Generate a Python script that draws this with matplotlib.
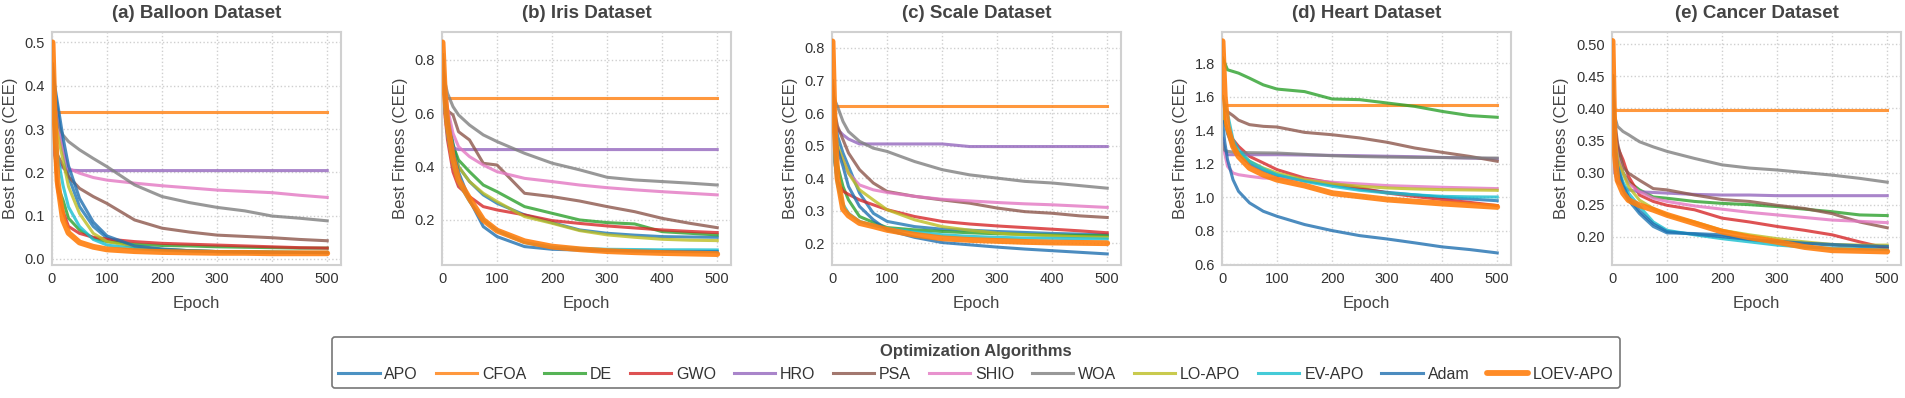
import numpy as np
import matplotlib
matplotlib.use('Agg')
import matplotlib.pyplot as plt
from matplotlib.ticker import FormatStrFormatter

plt.rcParams['font.family'] = ['Liberation Sans', 'DejaVu Sans']

EPOCHS = [1, 5, 10, 20, 30, 50, 75, 100, 150, 200, 250, 300, 350, 400, 450, 500]

ALGOS = ['APO', 'CFOA', 'DE', 'GWO', 'HRO', 'PSA', 'SHIO', 'WOA',
         'LO-APO', 'EV-APO', 'Adam', 'LOEV-APO']

COLORS = {
    'APO': '#1f77b4', 'CFOA': '#ff7f0e', 'DE': '#2ca02c', 'GWO': '#d62728',
    'HRO': '#9467bd', 'PSA': '#8c564b', 'SHIO': '#e377c2', 'WOA': '#7f7f7f',
    'LO-APO': '#bcbd22', 'EV-APO': '#17becf', 'Adam': '#1f6fb0', 'LOEV-APO': '#ff7f0e',
}

TITLES = ['(a) Balloon Dataset', '(b) Iris Dataset', '(c) Scale Dataset',
          '(d) Heart Dataset', '(e) Cancer Dataset']

balloon = {
    'APO':      [0.44, 0.39, 0.344, 0.252, 0.19, 0.121, 0.075, 0.048, 0.027, 0.022, 0.019, 0.017, 0.016, 0.016, 0.015, 0.015],
    'CFOA':     [0.34, 0.34, 0.34, 0.34, 0.34, 0.34, 0.34, 0.34, 0.34, 0.34, 0.34, 0.34, 0.34, 0.34, 0.34, 0.34],
    'DE':       [0.42, 0.25, 0.17, 0.136, 0.094, 0.067, 0.048, 0.04, 0.034, 0.031, 0.03, 0.028, 0.027, 0.026, 0.025, 0.025],
    'GWO':      [0.42, 0.25, 0.16, 0.11, 0.075, 0.059, 0.05, 0.046, 0.04, 0.036, 0.034, 0.032, 0.03, 0.028, 0.026, 0.025],
    'HRO':      [0.30, 0.24, 0.225, 0.21, 0.205, 0.204, 0.204, 0.204, 0.204, 0.204, 0.204, 0.204, 0.204, 0.204, 0.204, 0.204],
    'PSA':      [0.30, 0.26, 0.24, 0.215, 0.19, 0.163, 0.144, 0.128, 0.09, 0.071, 0.062, 0.055, 0.052, 0.049, 0.045, 0.042],
    'SHIO':     [0.40, 0.36, 0.32, 0.25, 0.209, 0.198, 0.188, 0.182, 0.175, 0.169, 0.164, 0.159, 0.156, 0.153, 0.147, 0.142],
    'WOA':      [0.42, 0.35, 0.313, 0.286, 0.271, 0.252, 0.232, 0.213, 0.171, 0.144, 0.13, 0.119, 0.111, 0.099, 0.094, 0.088],
    'LO-APO':   [0.40, 0.33, 0.29, 0.228, 0.167, 0.105, 0.059, 0.04, 0.028, 0.022, 0.019, 0.017, 0.016, 0.016, 0.015, 0.015],
    'EV-APO':   [0.42, 0.30, 0.24, 0.17, 0.12, 0.075, 0.045, 0.032, 0.024, 0.02, 0.018, 0.017, 0.016, 0.015, 0.015, 0.015],
    'Adam':     [0.45, 0.40, 0.36, 0.28, 0.215, 0.14, 0.085, 0.053, 0.03, 0.023, 0.019, 0.017, 0.016, 0.015, 0.015, 0.014],
    'LOEV-APO': [0.50, 0.32, 0.18, 0.09, 0.06, 0.038, 0.028, 0.022, 0.018, 0.016, 0.015, 0.014, 0.014, 0.013, 0.013, 0.013],
}

iris = {
    'APO':      [0.80, 0.68, 0.60, 0.4875, 0.40, 0.344, 0.294, 0.2625, 0.219, 0.19, 0.1625, 0.15, 0.143, 0.1375, 0.136, 0.135],
    'CFOA':     [0.656, 0.656, 0.656, 0.656, 0.656, 0.656, 0.656, 0.656, 0.656, 0.656, 0.656, 0.656, 0.656, 0.656, 0.656, 0.656],
    'DE':       [0.80, 0.65, 0.57, 0.48, 0.425, 0.381, 0.331, 0.306, 0.25, 0.225, 0.20, 0.19, 0.185, 0.156, 0.15, 0.144],
    'GWO':      [0.80, 0.60, 0.50, 0.38, 0.325, 0.2875, 0.25, 0.2375, 0.219, 0.1975, 0.187, 0.1775, 0.17, 0.1625, 0.157, 0.1525],
    'HRO':      [0.78, 0.62, 0.55, 0.47, 0.464, 0.464, 0.464, 0.464, 0.464, 0.464, 0.464, 0.464, 0.464, 0.464, 0.464, 0.464],
    'PSA':      [0.80, 0.66, 0.61, 0.594, 0.531, 0.50, 0.4125, 0.406, 0.30, 0.2875, 0.271, 0.25, 0.231, 0.206, 0.1875, 0.171],
    'SHIO':     [0.80, 0.70, 0.62, 0.525, 0.475, 0.4375, 0.406, 0.381, 0.356, 0.344, 0.331, 0.321, 0.313, 0.306, 0.30, 0.294],
    'WOA':      [0.82, 0.72, 0.675, 0.625, 0.594, 0.556, 0.519, 0.494, 0.45, 0.413, 0.388, 0.36, 0.35, 0.344, 0.338, 0.331],
    'LO-APO':   [0.80, 0.65, 0.56, 0.45, 0.40, 0.344, 0.30, 0.269, 0.2125, 0.1875, 0.16, 0.144, 0.135, 0.1275, 0.124, 0.1225],
    'EV-APO':   [0.82, 0.62, 0.52, 0.41, 0.34, 0.27, 0.20, 0.16, 0.115, 0.098, 0.093, 0.09, 0.089, 0.088, 0.088, 0.0875],
    'Adam':     [0.80, 0.66, 0.58, 0.46, 0.38, 0.275, 0.175, 0.1375, 0.10, 0.09, 0.087, 0.085, 0.083, 0.082, 0.081, 0.081],
    'LOEV-APO': [0.866, 0.68, 0.56, 0.43, 0.35, 0.28, 0.20, 0.16, 0.12, 0.10, 0.09, 0.083, 0.079, 0.076, 0.074, 0.072],
}

scale = {
    'APO':      [0.70, 0.60, 0.53, 0.477, 0.436, 0.354, 0.292, 0.267, 0.251, 0.243, 0.24, 0.236, 0.233, 0.23, 0.228, 0.226],
    'CFOA':     [0.623, 0.623, 0.623, 0.623, 0.623, 0.623, 0.623, 0.623, 0.623, 0.623, 0.623, 0.623, 0.623, 0.623, 0.623, 0.623],
    'DE':       [0.65, 0.50, 0.44, 0.374, 0.333, 0.282, 0.264, 0.248, 0.241, 0.236, 0.232, 0.229, 0.227, 0.225, 0.224, 0.223],
    'GWO':      [0.60, 0.45, 0.39, 0.36, 0.35, 0.333, 0.318, 0.303, 0.282, 0.267, 0.259, 0.253, 0.248, 0.243, 0.238, 0.232],
    'HRO':      [0.65, 0.58, 0.55, 0.533, 0.52, 0.505, 0.505, 0.505, 0.505, 0.505, 0.497, 0.497, 0.497, 0.497, 0.497, 0.497],
    'PSA':      [0.68, 0.60, 0.56, 0.518, 0.477, 0.426, 0.385, 0.359, 0.344, 0.333, 0.323, 0.308, 0.297, 0.292, 0.284, 0.279],
    'SHIO':     [0.60, 0.52, 0.49, 0.456, 0.415, 0.379, 0.364, 0.356, 0.344, 0.335, 0.33, 0.325, 0.321, 0.318, 0.314, 0.31],
    'WOA':      [0.66, 0.64, 0.62, 0.574, 0.543, 0.513, 0.492, 0.482, 0.451, 0.426, 0.41, 0.40, 0.39, 0.385, 0.377, 0.369],
    'LO-APO':   [0.65, 0.55, 0.50, 0.456, 0.415, 0.364, 0.333, 0.303, 0.272, 0.251, 0.24, 0.231, 0.226, 0.223, 0.22, 0.218],
    'EV-APO':   [0.60, 0.45, 0.38, 0.32, 0.292, 0.267, 0.255, 0.246, 0.235, 0.226, 0.221, 0.218, 0.216, 0.215, 0.214, 0.213],
    'Adam':     [0.65, 0.55, 0.49, 0.436, 0.374, 0.313, 0.272, 0.241, 0.218, 0.202, 0.195, 0.188, 0.182, 0.177, 0.172, 0.167],
    'LOEV-APO': [0.82, 0.55, 0.40, 0.305, 0.285, 0.262, 0.252, 0.241, 0.226, 0.215, 0.21, 0.207, 0.204, 0.202, 0.201, 0.20],
}

heart = {
    'APO':      [1.50, 1.45, 1.38, 1.30, 1.26, 1.20, 1.16, 1.13, 1.10, 1.075, 1.05, 1.03, 1.015, 1.00, 0.99, 0.98],
    'CFOA':     [1.55, 1.55, 1.55, 1.55, 1.55, 1.55, 1.55, 1.55, 1.55, 1.55, 1.55, 1.55, 1.55, 1.55, 1.55, 1.55],
    'DE':       [1.83, 1.80, 1.76, 1.75, 1.74, 1.71, 1.67, 1.645, 1.63, 1.586, 1.582, 1.562, 1.542, 1.512, 1.487, 1.477],
    'GWO':      [1.55, 1.45, 1.40, 1.344, 1.304, 1.244, 1.205, 1.165, 1.115, 1.086, 1.056, 1.026, 1.005, 0.987, 0.97, 0.951],
    'HRO':      [1.35, 1.28, 1.254, 1.254, 1.254, 1.254, 1.254, 1.254, 1.252, 1.25, 1.248, 1.245, 1.242, 1.238, 1.234, 1.23],
    'PSA':      [1.55, 1.52, 1.51, 1.487, 1.46, 1.433, 1.423, 1.419, 1.387, 1.373, 1.354, 1.328, 1.294, 1.268, 1.244, 1.215],
    'SHIO':     [1.35, 1.26, 1.185, 1.145, 1.135, 1.125, 1.115, 1.113, 1.105, 1.09, 1.08, 1.07, 1.065, 1.06, 1.056, 1.052],
    'WOA':      [1.32, 1.28, 1.274, 1.27, 1.268, 1.266, 1.265, 1.264, 1.256, 1.248, 1.243, 1.24, 1.238, 1.237, 1.235, 1.234],
    'LO-APO':   [1.60, 1.45, 1.40, 1.324, 1.264, 1.215, 1.175, 1.145, 1.105, 1.08, 1.066, 1.056, 1.05, 1.046, 1.044, 1.042],
    'EV-APO':   [1.60, 1.55, 1.50, 1.344, 1.284, 1.215, 1.17, 1.135, 1.095, 1.066, 1.042, 1.026, 1.015, 1.006, 1.003, 1.002],
    'Adam':     [1.45, 1.33, 1.225, 1.105, 1.036, 0.967, 0.917, 0.887, 0.838, 0.802, 0.772, 0.752, 0.729, 0.705, 0.689, 0.669],
    'LOEV-APO': [1.93, 1.60, 1.423, 1.304, 1.244, 1.175, 1.135, 1.105, 1.07, 1.025, 1.006, 0.987, 0.975, 0.963, 0.953, 0.943],
}

cancer = {
    'APO':      [0.45, 0.335, 0.304, 0.273, 0.257, 0.236, 0.216, 0.206, 0.205, 0.203, 0.195, 0.192, 0.19, 0.187, 0.185, 0.184],
    'CFOA':     [0.398, 0.398, 0.398, 0.398, 0.398, 0.398, 0.398, 0.398, 0.398, 0.398, 0.398, 0.398, 0.398, 0.398, 0.398, 0.398],
    'DE':       [0.45, 0.36, 0.33, 0.30, 0.286, 0.273, 0.262, 0.26, 0.255, 0.252, 0.25, 0.247, 0.243, 0.239, 0.234, 0.233],
    'GWO':      [0.45, 0.37, 0.34, 0.32, 0.294, 0.265, 0.255, 0.249, 0.242, 0.229, 0.223, 0.216, 0.21, 0.203, 0.192, 0.182],
    'HRO':      [0.40, 0.30, 0.285, 0.278, 0.273, 0.27, 0.269, 0.268, 0.266, 0.265, 0.265, 0.264, 0.264, 0.264, 0.264, 0.264],
    'PSA':      [0.45, 0.38, 0.346, 0.309, 0.299, 0.288, 0.275, 0.273, 0.265, 0.258, 0.255, 0.249, 0.244, 0.236, 0.223, 0.214],
    'SHIO':     [0.45, 0.36, 0.325, 0.299, 0.283, 0.27, 0.26, 0.255, 0.248, 0.243, 0.238, 0.234, 0.23, 0.226, 0.224, 0.222],
    'WOA':      [0.45, 0.387, 0.372, 0.364, 0.359, 0.348, 0.34, 0.333, 0.322, 0.312, 0.307, 0.304, 0.30, 0.296, 0.291, 0.285],
    'LO-APO':   [0.45, 0.36, 0.32, 0.299, 0.278, 0.257, 0.244, 0.234, 0.223, 0.21, 0.203, 0.197, 0.192, 0.188, 0.187, 0.187],
    'EV-APO':   [0.45, 0.34, 0.31, 0.285, 0.268, 0.247, 0.223, 0.21, 0.203, 0.197, 0.192, 0.187, 0.184, 0.182, 0.181, 0.18],
    'Adam':     [0.45, 0.34, 0.31, 0.28, 0.262, 0.24, 0.22, 0.208, 0.204, 0.20, 0.196, 0.193, 0.19, 0.188, 0.186, 0.185],
    'LOEV-APO': [0.505, 0.33, 0.288, 0.268, 0.257, 0.249, 0.242, 0.234, 0.221, 0.208, 0.199, 0.192, 0.184, 0.179, 0.178, 0.177],
}

DATASETS = [balloon, iris, scale, heart, cancer]
YLIMS = [(-0.014, 0.524), (0.031, 0.905), (0.133, 0.849), (0.597, 1.985), (0.156, 0.519)]
YTICKS = [np.arange(0.0, 0.51, 0.1), [0.2, 0.4, 0.6, 0.8], np.arange(0.2, 0.81, 0.1),
          np.arange(0.6, 1.81, 0.2), np.arange(0.20, 0.51, 0.05)]
YFMT = ['%.1f', '%.1f', '%.1f', '%.1f', '%.2f']

fig, axes = plt.subplots(1, 5, figsize=(19.06, 3.98), dpi=100)
fig.subplots_adjust(left=52/1906, right=1901/1906, bottom=133/398, top=366/398, wspace=0.3495)

for i, ax in enumerate(axes):
    data = DATASETS[i]
    for name in ALGOS:
        if name == 'LOEV-APO':
            ax.plot(EPOCHS, data[name], color=COLORS[name], lw=4.2, alpha=0.9, zorder=5,
                    solid_capstyle='round', label=name)
        else:
            ax.plot(EPOCHS, data[name], color=COLORS[name], lw=2.2, alpha=0.8, label=name)
    ax.set_xlim(0, 525)
    ax.set_ylim(*YLIMS[i])
    ax.set_xticks([0, 100, 200, 300, 400, 500])
    ax.set_yticks(YTICKS[i])
    ax.yaxis.set_major_formatter(FormatStrFormatter(YFMT[i]))
    ax.grid(True, linestyle=':', color='#cfcfcf', linewidth=1.0)
    ax.set_axisbelow(True)
    for s in ax.spines.values():
        s.set_color('#d0d0d0')
        s.set_linewidth(1.5)
    ax.tick_params(length=0, labelsize=10.5, labelcolor='#333333', pad=5)
    ax.set_title(TITLES[i], fontsize=13.5, fontweight='bold', color='#444444', pad=10)
    ax.set_xlabel('Epoch', fontsize=12, color='#444444', labelpad=7)
    ax.set_ylabel('Best Fitness (CEE)', fontsize=12, color='#444444', labelpad=5)

handles, labels = axes[0].get_legend_handles_labels()
leg = fig.legend(handles, labels, loc='lower center', bbox_to_anchor=(0.512, 0.005), ncol=12,
                 title='Optimization Algorithms', fontsize=11.5, frameon=True,
                 handlelength=2.6, columnspacing=1.1, handletextpad=0.3, borderpad=0.4)
leg.get_title().set_fontweight('bold')
leg.get_title().set_fontsize(12)
leg.get_title().set_color('#444444')
leg.get_frame().set_edgecolor('#555555')
leg.get_frame().set_linewidth(1.2)
for t in leg.get_texts():
    t.set_color('#333333')

fig.savefig('out.png', dpi=100)
